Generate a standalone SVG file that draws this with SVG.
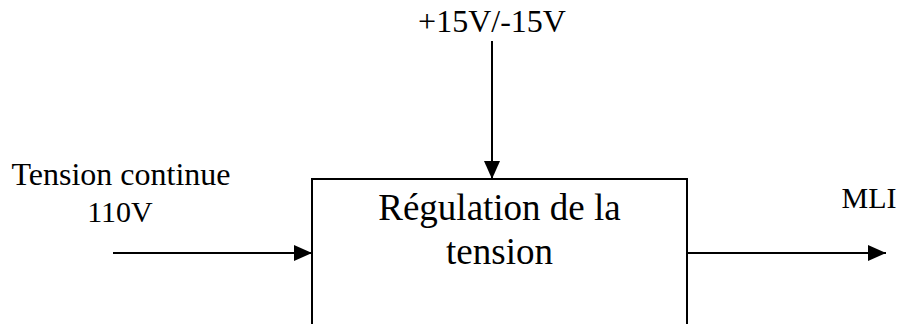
<svg xmlns="http://www.w3.org/2000/svg" width="901" height="324" viewBox="0 0 901 324">
<style>
text{font-family:"Liberation Serif","Times New Roman",serif;fill:#000;}
.lbl{font-size:30px;}
.wide{font-size:32px;}
.main{font-size:37px;}
.ln{stroke:#000;stroke-width:2;fill:none;}
</style>
<defs>
<marker id="ah" markerWidth="18" markerHeight="16" refX="18" refY="8" orient="auto" markerUnits="userSpaceOnUse">
<path d="M0,0 L18,8 L0,16 Z" fill="#000"/>
</marker>
</defs>
<rect width="901" height="324" fill="#fff"/>
<g id="block">
<rect class="ln" x="312" y="179" width="375" height="160"/>
<text class="main" x="499.5" y="220" text-anchor="middle">Régulation de la</text>
<text class="main" x="499.5" y="264" text-anchor="middle">tension</text>
</g>
<g id="supply">
<text class="wide" x="492" y="32" text-anchor="middle">+15V/-15V</text>
</g>
<g id="input">
<text class="wide" x="121" y="185" text-anchor="middle">Tension continue</text>
<text class="lbl" x="120" y="222" text-anchor="middle">110V</text>
</g>
<g id="output">
<text class="lbl" x="869" y="208" text-anchor="middle">MLI</text>
</g>
<g id="connectors">
<line class="ln" x1="492" y1="41" x2="492" y2="179" marker-end="url(#ah)"/>
<line class="ln" x1="113" y1="253" x2="312" y2="253" marker-end="url(#ah)"/>
<line class="ln" x1="687" y1="253" x2="886" y2="253" marker-end="url(#ah)"/>
</g>
</svg>
